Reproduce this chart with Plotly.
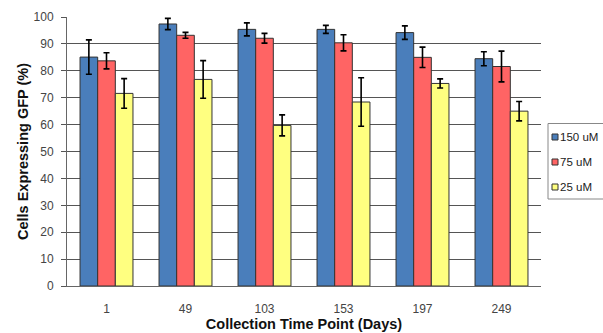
import plotly.graph_objects as go

days = ["1", "49", "103", "153", "197", "249"]
series_names = ["150 uM", "75 uM", "25 uM"]
v150 = [85.1, 97.4, 95.4, 95.4, 94.2, 84.5]
e150 = [6.4, 2.1, 2.4, 1.5, 2.5, 2.6]
v75 = [83.7, 93.2, 92.1, 90.4, 85.0, 81.6]
e75 = [3.0, 1.1, 1.8, 3.0, 3.8, 5.7]
v25 = [71.6, 76.8, 59.7, 68.4, 75.3, 65.0]
e25 = [5.5, 7.0, 3.9, 9.0, 1.7, 3.6]
colors = ["#4A7EBB", "#FF6464", "#FFFF80"]

W, H = 603, 333
ML, MR, MT, MB = 67, 62, 17, 47
PW, PH = W - ML - MR, H - MT - MB


def px(x):
    return (x - ML) / PW


def py(y):
    return (H - MB - y) / PH


fig = go.Figure()
for name, vals, errs, col in zip(series_names, [v150, v75, v25], [e150, e75, e25], colors):
    fig.add_trace(go.Bar(
        x=days, y=vals, name=name,
        marker=dict(color=col, line=dict(color="#333333", width=1)),
        error_y=dict(type="data", array=errs, visible=True, color="black", thickness=1.6, width=3),
    ))

# legend drawn as box + swatches + text
shapes = [dict(type="rect", xref="paper", yref="paper",
               x0=px(548), x1=px(604), y0=py(199), y1=py(123.5),
               line=dict(color="#888888", width=1), fillcolor="white")]
annotations = []
row_y = [137, 162, 187]
for name, col, yy in zip(series_names, colors, row_y):
    shapes.append(dict(type="rect", xref="paper", yref="paper",
                       x0=px(552), x1=px(558), y0=py(yy + 3), y1=py(yy - 3),
                       line=dict(color="#333333", width=1), fillcolor=col))
    annotations.append(dict(x=px(559), y=py(yy), xref="paper", yref="paper",
                            text=name, showarrow=False, xanchor="left", yanchor="middle",
                            borderpad=0, font=dict(size=11.5, color="#222222")))

fig.update_layout(
    width=W, height=H,
    margin=dict(l=ML, r=MR, t=MT, b=MB, autoexpand=False),
    barmode="group", bargap=0.33, bargroupgap=0,
    plot_bgcolor="white", paper_bgcolor="white",
    font=dict(family="Liberation Sans, Arial", size=12, color="#333333"),
    showlegend=False,
    shapes=shapes, annotations=annotations,
    xaxis=dict(
        title=dict(text="<b>Collection Time Point (Days)</b>", font=dict(size=14.5, color="#111111"), standoff=1),
        showline=True, linecolor="#666666", linewidth=1, ticks="", tickfont=dict(size=12, color="#444444"),
        ticklabelstandoff=12,
    ),
    yaxis=dict(
        title=dict(text="<b>Cells Expressing GFP (%)</b>", font=dict(size=14.5, color="#111111"), standoff=1),
        range=[0, 100], dtick=10, showgrid=True, gridcolor="#555555", gridwidth=1,
        showline=True, linecolor="#666666", linewidth=1,
        ticks="outside", ticklen=5, tickcolor="#555555",
        tickfont=dict(size=12, color="#444444"), zeroline=False, ticklabelstandoff=5,
    ),
)

fig.write_html("out.html", config={"displayModeBar": False},
               post_script="document.body.style.margin='0';document.body.style.overflow='hidden';")
